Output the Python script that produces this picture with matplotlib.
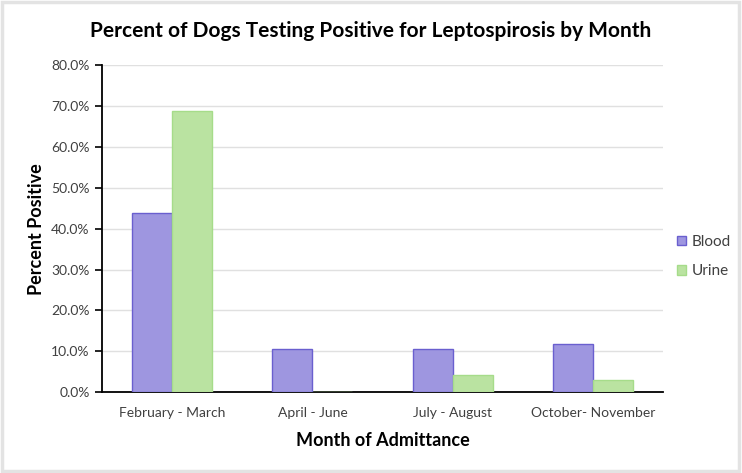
import numpy as np
import matplotlib.pyplot as plt
from matplotlib.patches import Rectangle

# datos
meses = ['February - March', 'April - June', 'July - August', 'October- November']
sangre = [43.9, 10.6, 10.5, 11.7]
orina = [68.7, 0.0, 4.3, 2.9]
ticks_y = [0, 10, 20, 30, 40, 50, 60, 70, 80]

plt.rcParams['font.family'] = ['Lato', 'DejaVu Sans']

fig = plt.figure(figsize=(7.42, 4.73), dpi=100)
# marco gris alrededor de la figura
fig.patches.append(Rectangle((0.003, 0.004), 0.993, 0.992, transform=fig.transFigure,
                             fill=False, edgecolor='#e3e3e3', linewidth=2.5))
ax = fig.add_axes([0.1375, 0.171, 0.756, 0.691])

x = np.arange(len(meses))
ancho = 0.285
ax.bar(x - ancho / 2, sangre, ancho, color='#9e96e0', edgecolor='#6a5fcf', linewidth=1, label='Blood', zorder=3)
ax.bar(x + ancho / 2, orina, ancho, color='#bae3a1', edgecolor='#a6dc8a', linewidth=1, label='Urine', zorder=3)

ax.set_xlim(-0.5, 3.5)
ax.set_ylim(0, 80)
ax.set_yticks(ticks_y)
ax.set_yticklabels(['%.1f%%' % t for t in ticks_y], fontsize=10, color='#404040')
ax.set_xticks(x)
ax.set_xticklabels(meses, fontsize=10, color='#404040')
ax.tick_params(axis='x', length=0, pad=11)
ax.tick_params(axis='y', length=5, width=1.2, direction='out', pad=4)
ax.yaxis.grid(True, color='#e0e0e0', linewidth=1, zorder=0)
ax.spines['top'].set_visible(False)
ax.spines['right'].set_visible(False)
ax.spines['left'].set_linewidth(1.3)
ax.spines['bottom'].set_linewidth(1.3)

ax.set_ylabel('Percent Positive', fontsize=13, fontweight='bold', labelpad=4)
ax.set_xlabel('Month of Admittance', fontsize=13, fontweight='bold', labelpad=9)
fig.suptitle('Percent of Dogs Testing Positive for Leptospirosis by Month',
             fontsize=15, fontweight='bold', y=0.955)

ax.legend(loc='center left', bbox_to_anchor=(1.0, 0.415), frameon=False, fontsize=11,
          handlelength=0.6, handleheight=0.6, handletextpad=0.4, labelcolor='#404040',
          labelspacing=1.0)

plt.savefig('out.png', dpi=100)
